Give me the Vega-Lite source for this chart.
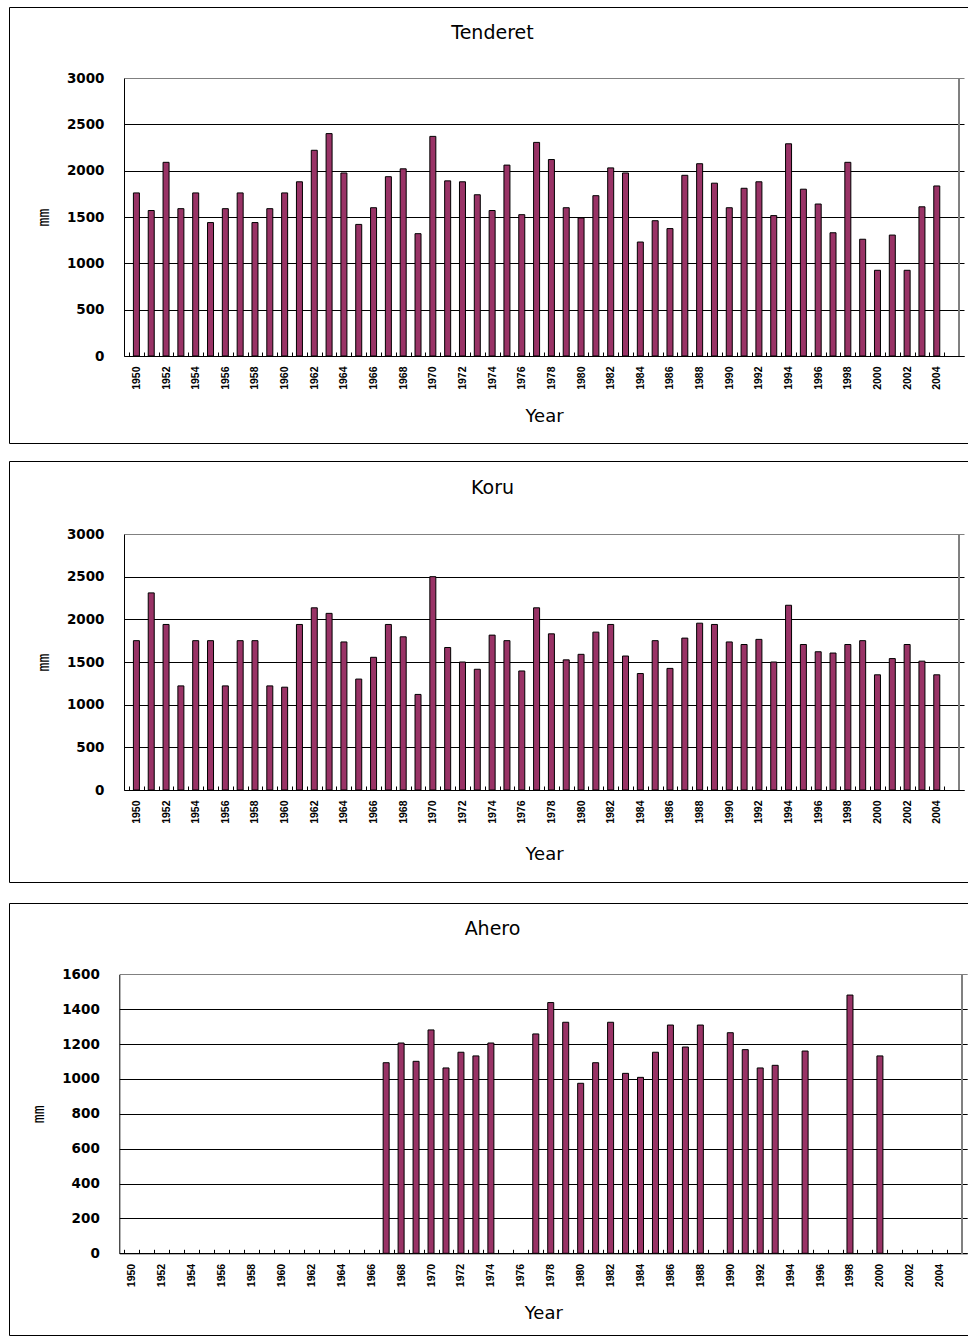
{
  "$schema": "https://vega.github.io/schema/vega-lite/v6.json",
  "padding": {"left": 8, "top": 6, "right": 0, "bottom": 0},
  "background": "white",
  "datasets": {
    "tenderet": [
      {"year": 1950, "mm": 1760}, {"year": 1951, "mm": 1570}, {"year": 1952, "mm": 2090}, {"year": 1953, "mm": 1590},
      {"year": 1954, "mm": 1760}, {"year": 1955, "mm": 1440}, {"year": 1956, "mm": 1590}, {"year": 1957, "mm": 1760},
      {"year": 1958, "mm": 1440}, {"year": 1959, "mm": 1590}, {"year": 1960, "mm": 1760}, {"year": 1961, "mm": 1880},
      {"year": 1962, "mm": 2220}, {"year": 1963, "mm": 2400}, {"year": 1964, "mm": 1975}, {"year": 1965, "mm": 1420},
      {"year": 1966, "mm": 1600}, {"year": 1967, "mm": 1935}, {"year": 1968, "mm": 2020}, {"year": 1969, "mm": 1320},
      {"year": 1970, "mm": 2370}, {"year": 1971, "mm": 1890}, {"year": 1972, "mm": 1880}, {"year": 1973, "mm": 1740},
      {"year": 1974, "mm": 1570}, {"year": 1975, "mm": 2060}, {"year": 1976, "mm": 1525}, {"year": 1977, "mm": 2305},
      {"year": 1978, "mm": 2120}, {"year": 1979, "mm": 1600}, {"year": 1980, "mm": 1490}, {"year": 1981, "mm": 1730},
      {"year": 1982, "mm": 2030}, {"year": 1983, "mm": 1975}, {"year": 1984, "mm": 1230}, {"year": 1985, "mm": 1460},
      {"year": 1986, "mm": 1375}, {"year": 1987, "mm": 1950}, {"year": 1988, "mm": 2075}, {"year": 1989, "mm": 1865},
      {"year": 1990, "mm": 1600}, {"year": 1991, "mm": 1810}, {"year": 1992, "mm": 1880}, {"year": 1993, "mm": 1515},
      {"year": 1994, "mm": 2290}, {"year": 1995, "mm": 1800}, {"year": 1996, "mm": 1640}, {"year": 1997, "mm": 1330},
      {"year": 1998, "mm": 2090}, {"year": 1999, "mm": 1260}, {"year": 2000, "mm": 925}, {"year": 2001, "mm": 1305},
      {"year": 2002, "mm": 925}, {"year": 2003, "mm": 1610}, {"year": 2004, "mm": 1835}
    ],
    "koru": [
      {"year": 1950, "mm": 1750}, {"year": 1951, "mm": 2310}, {"year": 1952, "mm": 1940}, {"year": 1953, "mm": 1220},
      {"year": 1954, "mm": 1750}, {"year": 1955, "mm": 1750}, {"year": 1956, "mm": 1220}, {"year": 1957, "mm": 1750},
      {"year": 1958, "mm": 1750}, {"year": 1959, "mm": 1220}, {"year": 1960, "mm": 1205}, {"year": 1961, "mm": 1940},
      {"year": 1962, "mm": 2135}, {"year": 1963, "mm": 2070}, {"year": 1964, "mm": 1735}, {"year": 1965, "mm": 1300},
      {"year": 1966, "mm": 1555}, {"year": 1967, "mm": 1940}, {"year": 1968, "mm": 1795}, {"year": 1969, "mm": 1120},
      {"year": 1970, "mm": 2500}, {"year": 1971, "mm": 1670}, {"year": 1972, "mm": 1500}, {"year": 1973, "mm": 1415},
      {"year": 1974, "mm": 1815}, {"year": 1975, "mm": 1750}, {"year": 1976, "mm": 1395}, {"year": 1977, "mm": 2135},
      {"year": 1978, "mm": 1830}, {"year": 1979, "mm": 1525}, {"year": 1980, "mm": 1590}, {"year": 1981, "mm": 1850},
      {"year": 1982, "mm": 1940}, {"year": 1983, "mm": 1570}, {"year": 1984, "mm": 1365}, {"year": 1985, "mm": 1750},
      {"year": 1986, "mm": 1425}, {"year": 1987, "mm": 1780}, {"year": 1988, "mm": 1955}, {"year": 1989, "mm": 1940},
      {"year": 1990, "mm": 1735}, {"year": 1991, "mm": 1705}, {"year": 1992, "mm": 1765}, {"year": 1993, "mm": 1500},
      {"year": 1994, "mm": 2165}, {"year": 1995, "mm": 1705}, {"year": 1996, "mm": 1620}, {"year": 1997, "mm": 1605},
      {"year": 1998, "mm": 1705}, {"year": 1999, "mm": 1750}, {"year": 2000, "mm": 1350}, {"year": 2001, "mm": 1540},
      {"year": 2002, "mm": 1705}, {"year": 2003, "mm": 1510}, {"year": 2004, "mm": 1350}
    ],
    "ahero": [
      {"year": 1967, "mm": 1093}, {"year": 1968, "mm": 1206}, {"year": 1969, "mm": 1101}, {"year": 1970, "mm": 1281},
      {"year": 1971, "mm": 1063}, {"year": 1972, "mm": 1153}, {"year": 1973, "mm": 1132}, {"year": 1974, "mm": 1206},
      {"year": 1977, "mm": 1258}, {"year": 1978, "mm": 1438}, {"year": 1979, "mm": 1325}, {"year": 1980, "mm": 975},
      {"year": 1981, "mm": 1093}, {"year": 1982, "mm": 1325}, {"year": 1983, "mm": 1032}, {"year": 1984, "mm": 1009},
      {"year": 1985, "mm": 1153}, {"year": 1986, "mm": 1309}, {"year": 1987, "mm": 1183}, {"year": 1988, "mm": 1309},
      {"year": 1990, "mm": 1265}, {"year": 1991, "mm": 1168}, {"year": 1992, "mm": 1063}, {"year": 1993, "mm": 1078},
      {"year": 1995, "mm": 1160}, {"year": 1998, "mm": 1481}, {"year": 2000, "mm": 1132}
    ]
  },
  "vconcat": [
    {
      "spacing": 16,
      "vconcat": [
        {
          "width": 959,
          "height": 436,
          "title": {"text": "Tenderet", "offset": -25, "baseline": "middle", "dx": 4, "dy": 20},
          "data": {"name": "tenderet"},
          "layer": [
            {
              "mark": {"type": "bar", "width": 6, "color": "#993366", "stroke": "#000", "strokeWidth": 1},
              "encoding": {
                "x": {
                  "field": "year", "type": "quantitative",
                  "scale": {"domain": [1949.5, 2005.5], "range": [115, 955], "nice": false, "zero": false},
                  "axis": {
                    "title": "Year", "offset": -87,
                    "values": [1949.5,1950,1950.5,1951.5,1952,1952.5,1953.5,1954,1954.5,1955.5,1956,1956.5,1957.5,1958,1958.5,1959.5,1960,1960.5,1961.5,1962,1962.5,1963.5,1964,1964.5,1965.5,1966,1966.5,1967.5,1968,1968.5,1969.5,1970,1970.5,1971.5,1972,1972.5,1973.5,1974,1974.5,1975.5,1976,1976.5,1977.5,1978,1978.5,1979.5,1980,1980.5,1981.5,1982,1982.5,1983.5,1984,1984.5,1985.5,1986,1986.5,1987.5,1988,1988.5,1989.5,1990,1990.5,1991.5,1992,1992.5,1993.5,1994,1994.5,1995.5,1996,1996.5,1997.5,1998,1998.5,1999.5,2000,2000.5,2001.5,2002,2002.5,2003.5,2004,2004.5,2005.5],
                    "labelExpr": "datum.value % 2 === 0 ? toString(datum.value) : ''",
                    "tickOpacity": {"condition": {"test": "datum.value % 1 === 0", "value": 0}, "value": 1}
                  }
                },
                "y": {
                  "field": "mm", "type": "quantitative",
                  "scale": {"domain": [0, 3000], "range": [349, 71], "nice": false, "zero": false},
                  "axis": {
                    "title": "mm", "offset": -115, "format": "d",
                    "values": [0, 500, 1000, 1500, 2000, 2500, 3000],
                    "gridColor": {"condition": {"test": "datum.value === 3000", "value": "#808080"}, "value": "#000"}
                  }
                },
                "y2": {"datum": 0}
              }
            },
            {
              "mark": {"type": "rule", "color": "#808080", "strokeWidth": 1},
              "encoding": {
                "x": {
                  "datum": 2005.5, "type": "quantitative",
                  "axis": {
                    "title": "Year", "offset": -87,
                    "values": [1949.5,1950,1950.5,1951.5,1952,1952.5,1953.5,1954,1954.5,1955.5,1956,1956.5,1957.5,1958,1958.5,1959.5,1960,1960.5,1961.5,1962,1962.5,1963.5,1964,1964.5,1965.5,1966,1966.5,1967.5,1968,1968.5,1969.5,1970,1970.5,1971.5,1972,1972.5,1973.5,1974,1974.5,1975.5,1976,1976.5,1977.5,1978,1978.5,1979.5,1980,1980.5,1981.5,1982,1982.5,1983.5,1984,1984.5,1985.5,1986,1986.5,1987.5,1988,1988.5,1989.5,1990,1990.5,1991.5,1992,1992.5,1993.5,1994,1994.5,1995.5,1996,1996.5,1997.5,1998,1998.5,1999.5,2000,2000.5,2001.5,2002,2002.5,2003.5,2004,2004.5,2005.5],
                    "labelExpr": "datum.value % 2 === 0 ? toString(datum.value) : ''",
                    "tickOpacity": {"condition": {"test": "datum.value % 1 === 0", "value": 0}, "value": 1}
                  }
                },
                "y": {
                  "datum": 0, "type": "quantitative",
                  "axis": {
                    "title": "mm", "offset": -115, "format": "d",
                    "values": [0, 500, 1000, 1500, 2000, 2500, 3000],
                    "gridColor": {"condition": {"test": "datum.value === 3000", "value": "#808080"}, "value": "#000"}
                  }
                },
                "y2": {"datum": 3000}
              }
            }
          ]
        },
        {
          "width": 959,
          "height": 421,
          "title": {"text": "Koru", "offset": -26, "baseline": "middle", "dx": 4, "dy": 20},
          "data": {"name": "koru"},
          "layer": [
            {
              "mark": {"type": "bar", "width": 6, "color": "#993366", "stroke": "#000", "strokeWidth": 1},
              "encoding": {
                "x": {
                  "field": "year", "type": "quantitative",
                  "scale": {"domain": [1949.5, 2005.5], "range": [115, 955], "nice": false, "zero": false},
                  "axis": {
                    "title": "Year", "offset": -92, "titlePadding": 22,
                    "values": [1949.5,1950,1950.5,1951.5,1952,1952.5,1953.5,1954,1954.5,1955.5,1956,1956.5,1957.5,1958,1958.5,1959.5,1960,1960.5,1961.5,1962,1962.5,1963.5,1964,1964.5,1965.5,1966,1966.5,1967.5,1968,1968.5,1969.5,1970,1970.5,1971.5,1972,1972.5,1973.5,1974,1974.5,1975.5,1976,1976.5,1977.5,1978,1978.5,1979.5,1980,1980.5,1981.5,1982,1982.5,1983.5,1984,1984.5,1985.5,1986,1986.5,1987.5,1988,1988.5,1989.5,1990,1990.5,1991.5,1992,1992.5,1993.5,1994,1994.5,1995.5,1996,1996.5,1997.5,1998,1998.5,1999.5,2000,2000.5,2001.5,2002,2002.5,2003.5,2004,2004.5,2005.5],
                    "labelExpr": "datum.value % 2 === 0 ? toString(datum.value) : ''",
                    "tickOpacity": {"condition": {"test": "datum.value % 1 === 0", "value": 0}, "value": 1}
                  }
                },
                "y": {
                  "field": "mm", "type": "quantitative",
                  "scale": {"domain": [0, 3000], "range": [329, 73], "nice": false, "zero": false},
                  "axis": {
                    "title": "mm", "offset": -115, "format": "d",
                    "values": [0, 500, 1000, 1500, 2000, 2500, 3000],
                    "gridColor": {"condition": {"test": "datum.value === 3000", "value": "#808080"}, "value": "#000"}
                  }
                },
                "y2": {"datum": 0}
              }
            },
            {
              "mark": {"type": "rule", "color": "#808080", "strokeWidth": 1},
              "encoding": {
                "x": {
                  "datum": 2005.5, "type": "quantitative",
                  "axis": {
                    "title": "Year", "offset": -92, "titlePadding": 22,
                    "values": [1949.5,1950,1950.5,1951.5,1952,1952.5,1953.5,1954,1954.5,1955.5,1956,1956.5,1957.5,1958,1958.5,1959.5,1960,1960.5,1961.5,1962,1962.5,1963.5,1964,1964.5,1965.5,1966,1966.5,1967.5,1968,1968.5,1969.5,1970,1970.5,1971.5,1972,1972.5,1973.5,1974,1974.5,1975.5,1976,1976.5,1977.5,1978,1978.5,1979.5,1980,1980.5,1981.5,1982,1982.5,1983.5,1984,1984.5,1985.5,1986,1986.5,1987.5,1988,1988.5,1989.5,1990,1990.5,1991.5,1992,1992.5,1993.5,1994,1994.5,1995.5,1996,1996.5,1997.5,1998,1998.5,1999.5,2000,2000.5,2001.5,2002,2002.5,2003.5,2004,2004.5,2005.5],
                    "labelExpr": "datum.value % 2 === 0 ? toString(datum.value) : ''",
                    "tickOpacity": {"condition": {"test": "datum.value % 1 === 0", "value": 0}, "value": 1}
                  }
                },
                "y": {
                  "datum": 0, "type": "quantitative",
                  "axis": {
                    "title": "mm", "offset": -115, "format": "d",
                    "values": [0, 500, 1000, 1500, 2000, 2500, 3000],
                    "gridColor": {"condition": {"test": "datum.value === 3000", "value": "#808080"}, "value": "#000"}
                  }
                },
                "y2": {"datum": 3000}
              }
            }
          ]
        }
      ]
    },
    {
      "width": 959,
      "height": 432,
      "title": {"text": "Ahero", "offset": -25, "baseline": "middle", "dx": 4, "dy": 20},
      "data": {"name": "ahero"},
      "layer": [
        {
          "mark": {"type": "bar", "width": 6, "color": "#993366", "stroke": "#000", "strokeWidth": 1},
          "encoding": {
            "x": {
              "field": "year", "type": "quantitative",
              "scale": {"domain": [1949.5, 2005.5], "range": [110.3, 958.2], "nice": false, "zero": false},
              "axis": {
                "title": "Year", "offset": -81.7,
                "values": [1949.5,1950,1950.5,1951.5,1952,1952.5,1953.5,1954,1954.5,1955.5,1956,1956.5,1957.5,1958,1958.5,1959.5,1960,1960.5,1961.5,1962,1962.5,1963.5,1964,1964.5,1965.5,1966,1966.5,1967.5,1968,1968.5,1969.5,1970,1970.5,1971.5,1972,1972.5,1973.5,1974,1974.5,1975.5,1976,1976.5,1977.5,1978,1978.5,1979.5,1980,1980.5,1981.5,1982,1982.5,1983.5,1984,1984.5,1985.5,1986,1986.5,1987.5,1988,1988.5,1989.5,1990,1990.5,1991.5,1992,1992.5,1993.5,1994,1994.5,1995.5,1996,1996.5,1997.5,1998,1998.5,1999.5,2000,2000.5,2001.5,2002,2002.5,2003.5,2004,2004.5,2005.5],
                "labelExpr": "datum.value % 2 === 0 ? toString(datum.value) : ''",
                "tickOpacity": {"condition": {"test": "datum.value % 1 === 0", "value": 0}, "value": 1}
              }
            },
            "y": {
              "field": "mm", "type": "quantitative",
              "scale": {"domain": [0, 1600], "range": [350.3, 71.3], "nice": false, "zero": false},
              "axis": {
                "title": "mm", "offset": -110.3, "format": "d",
                "values": [0, 200, 400, 600, 800, 1000, 1200, 1400, 1600],
                "gridColor": {"condition": {"test": "datum.value === 1600", "value": "#808080"}, "value": "#000"}
              }
            },
            "y2": {"datum": 0}
          }
        },
        {
          "mark": {"type": "rule", "color": "#808080", "strokeWidth": 1},
          "encoding": {
            "x": {
              "datum": 2005.5, "type": "quantitative",
              "axis": {
                "title": "Year", "offset": -81.7,
                "values": [1949.5,1950,1950.5,1951.5,1952,1952.5,1953.5,1954,1954.5,1955.5,1956,1956.5,1957.5,1958,1958.5,1959.5,1960,1960.5,1961.5,1962,1962.5,1963.5,1964,1964.5,1965.5,1966,1966.5,1967.5,1968,1968.5,1969.5,1970,1970.5,1971.5,1972,1972.5,1973.5,1974,1974.5,1975.5,1976,1976.5,1977.5,1978,1978.5,1979.5,1980,1980.5,1981.5,1982,1982.5,1983.5,1984,1984.5,1985.5,1986,1986.5,1987.5,1988,1988.5,1989.5,1990,1990.5,1991.5,1992,1992.5,1993.5,1994,1994.5,1995.5,1996,1996.5,1997.5,1998,1998.5,1999.5,2000,2000.5,2001.5,2002,2002.5,2003.5,2004,2004.5,2005.5],
                "labelExpr": "datum.value % 2 === 0 ? toString(datum.value) : ''",
                "tickOpacity": {"condition": {"test": "datum.value % 1 === 0", "value": 0}, "value": 1}
              }
            },
            "y": {
              "datum": 0, "type": "quantitative",
              "axis": {
                "title": "mm", "offset": -110.3, "format": "d",
                "values": [0, 200, 400, 600, 800, 1000, 1200, 1400, 1600],
                "gridColor": {"condition": {"test": "datum.value === 1600", "value": "#808080"}, "value": "#000"}
              }
            },
            "y2": {"datum": 1600}
          }
        }
      ]
    }
  ],
  "spacing": 19,
  "config": {
    "view": {"stroke": "#000", "strokeWidth": 1},
    "axis": {
      "domainColor": "#000", "domainWidth": 1, "tickColor": "#000", "tickWidth": 1,
      "labelColor": "#000", "titleColor": "#000",
      "titleFont": "DejaVu Sans", "titleFontWeight": "normal",
      "labelOverlap": false, "labelFlush": false, "gridWidth": 1
    },
    "axisX": {
      "labelAngle": 270, "labelFont": "Liberation Sans", "labelFontWeight": "bold", "labelFontSize": 10.5,
      "tickSize": -4, "labelPadding": 14, "titleFontSize": 18, "titlePadding": 18, "grid": false
    },
    "axisY": {
      "labelFont": "DejaVu Sans", "labelFontWeight": "bold", "labelFontSize": 13.5,
      "ticks": false, "labelPadding": 20, "titleFont": "DejaVu Sans Mono", "titleFontSize": 15, "titlePadding": 15, "grid": true
    },
    "title": {"font": "DejaVu Sans", "fontSize": 19, "fontWeight": "normal", "color": "#000"}
  }
}
